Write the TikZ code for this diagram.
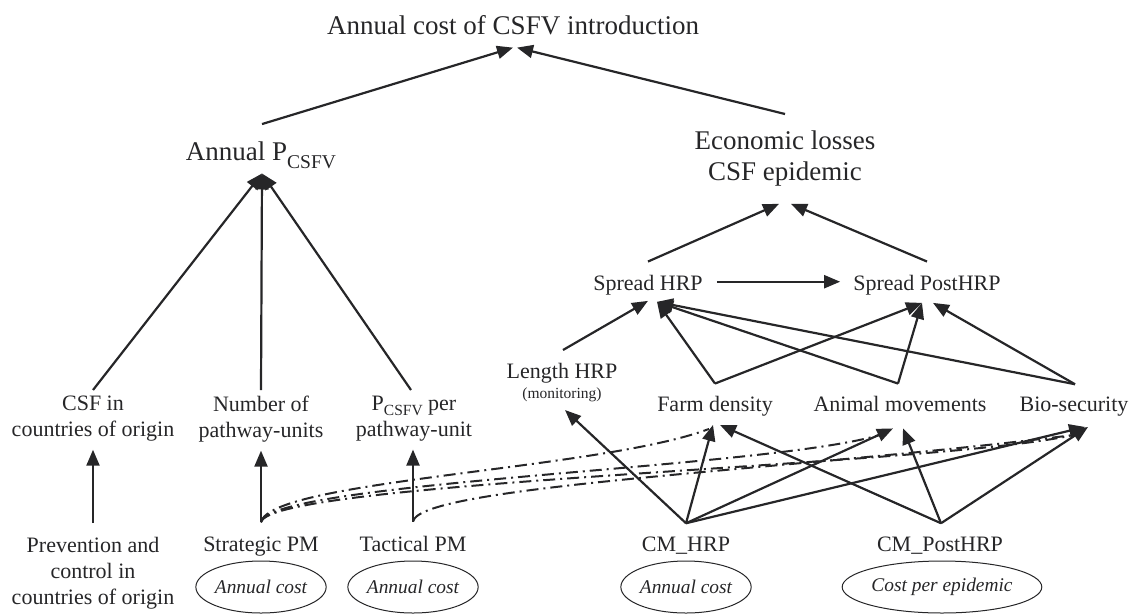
\documentclass[tikz,border=0pt]{standalone}
\usepackage{fontspec}
\setmainfont{Liberation Serif}
\usetikzlibrary{arrows.meta,calc,shapes.geometric}
\definecolor{ink}{RGB}{38,38,40}
\newcommand\bigsub{\raisebox{-8pt}{\fontsize{19.5}{20}\selectfont CSFV}}
\newcommand\midsub{\raisebox{-5pt}{\fontsize{15.5}{16}\selectfont CSFV}}
\begin{document}
\begin{tikzpicture}[x=1pt,y=-1pt,
  lbl/.style={inner sep=0pt, text=ink, font=\fontsize{22}{26}\selectfont, align=center},
  big/.style={inner sep=0pt, text=ink, font=\fontsize{27}{31}\selectfont, align=center},
  costell/.style={ellipse, draw=ink, line width=1pt, inner sep=0pt, text=ink, minimum height=52pt, font=\fontsize{19.4}{22}\selectfont\itshape},
  arr/.style={draw=ink, line width=2.2pt, -{Triangle[length=16pt,width=13pt]}},
  dd/.style={draw=ink, line width=2pt, dash pattern=on 12pt off 5pt on 2pt off 5pt}]
\useasboundingbox (0,0) rectangle (1133,614);
% top levels
\node[big, anchor=base] (title) at (513,34) {Annual cost of CSFV introduction};
\node[big, anchor=base] (annp) at (261,160) {Annual P\bigsub};
\node[big, anchor=north] (econ) at (785,131) {Economic losses\\CSF epidemic};
% spread
\node[lbl, anchor=base] (shrp) at (648,290) {Spread HRP};
\node[lbl, anchor=base] (spost) at (927,290) {Spread PostHRP};
% factors
\node[lbl, anchor=north] (lhrp) at (562,363) {Length HRP\\[-6pt]{\fontsize{15.5}{18}\selectfont (monitoring)}};
\node[lbl, anchor=base] (fd) at (715,411) {Farm density};
\node[lbl, anchor=base] (am) at (900,411) {Animal movements};
\node[lbl, anchor=base] (bs) at (1074,411) {Bio-security};
\node[lbl, anchor=north] (csfin) at (93,396) {CSF in\\countries of origin};
\node[lbl, anchor=north] (numpw) at (261,396) {Number of\\pathway-units};
\node[lbl, anchor=north] (pper) at (414,396) {P\midsub{} per\\pathway-unit};
% measures
\node[lbl, anchor=north] (prev) at (93,537) {Prevention and\\control in\\countries of origin};
\node[lbl, anchor=base] (strat) at (261,551) {Strategic PM};
\node[lbl, anchor=base] (tact) at (413,551) {Tactical PM};
\node[lbl, anchor=base] (cmhrp) at (686,551) {CM\_HRP};
\node[lbl, anchor=base] (cmpost) at (940,551) {CM\_PostHRP};
\node[costell, minimum width=115pt] (e1) at (261,587) {Annual cost};
\node[costell, minimum width=115pt] (e2) at (413,587) {Annual cost};
\node[costell, minimum width=114pt] (e3) at (686,587) {Annual cost};
\node[costell, minimum width=165pt] (e4) at (942,587) {Cost per epidemic};
% to title
\draw[arr] ($(annp.north)+(1,-17)$) -- ($(title.south)+(0,13)$);
\draw[arr] ($(econ.north)+(0,-17)$) -- ($(title.south)+(4,13)$);
% to annual P
\draw[arr] ($(csfin.north)+(0,-6)$) -- ($(annp.south)+(1,5)$);
\draw[arr] ($(numpw.north)+(0,-6)$) -- ($(annp.south)+(1,5)$);
\draw[arr] ($(pper.north)+(-3,-6)$) -- ($(annp.south)+(1,5)$);
% to econ
\draw[arr] ($(shrp.north)+(0,-13)$) -- ($(econ.south)+(-6,17)$);
\draw[arr] ($(spost.north)+(0,-13)$) -- ($(econ.south)+(6,17)$);
\draw[arr] ($(shrp.east)+(14,-3)$) -- ($(spost.west)+(-13,-3)$);
% to spread HRP
\draw[arr] ($(lhrp.north)+(1,-13)$) -- ($(shrp.south)+(0,6)$);
\draw[arr] ($(fd.north)+(0,-12)$) -- ($(shrp.south)+(9,7)$);
\draw[arr] ($(am.north)+(-2,-12)$) -- ($(shrp.south)+(9,7)$);
\draw[arr] ($(bs.north)+(1,-12)$) -- ($(shrp.south)+(9,7)$);
% to spread PostHRP
\draw[arr] ($(fd.north)+(0,-12)$) -- ($(spost.south)+(-5,8)$);
\draw[arr] ($(am.north)+(-2,-12)$) -- ($(spost.south)+(-5,8)$);
\draw[arr] ($(bs.north)+(1,-12)$) -- ($(spost.south)+(6,8)$);
% measures up
\draw[arr] ($(prev.north)+(0,-14)$) -- ($(csfin.south)+(0,8)$);
\draw[arr] ($(strat.north)+(0,-14)$) -- ($(numpw.south)+(0,8)$);
\draw[arr] ($(tact.north)+(0,-14)$) -- ($(pper.south)+(-1,8)$);
% CM_HRP
\draw[arr] ($(cmhrp.north)+(0,-13)$) -- ($(lhrp.south)+(3,8)$);
\draw[arr] ($(cmhrp.north)+(0,-13)$) -- ($(fd.south)+(-2,9)$);
\draw[arr] ($(cmhrp.north)+(0,-13)$) -- ($(am.south)+(-7,17)$);
\draw[arr] ($(cmhrp.north)+(0,-13)$) -- ($(bs.south)+(11,11)$);
% CM_PostHRP
\draw[arr] ($(cmpost.north)+(1,-13)$) -- ($(fd.south)+(5,9)$);
\draw[arr] ($(cmpost.north)+(1,-13)$) -- ($(am.south)+(3,17)$);
\draw[arr] ($(cmpost.north)+(1,-13)$) -- ($(bs.south)+(14,11)$);
% dash-dot influences
\draw[dd] ($(strat.north)+(0,-14)$) .. controls (270,480) and (600,470) .. ($(fd.south)+(-6,13)$);
\draw[dd] ($(strat.north)+(0,-14)$) .. controls (270,480) and (800,468) .. ($(am.south)+(-10,20)$);
\draw[dd] ($(strat.north)+(0,-14)$) .. controls (270,480) and (960,466) .. ($(bs.south)+(8,17)$);
\draw[dd] ($(tact.north)+(0,-14)$) .. controls (420,485) and (800,470) .. ($(bs.south)+(8,18)$);
\end{tikzpicture}
\end{document}
